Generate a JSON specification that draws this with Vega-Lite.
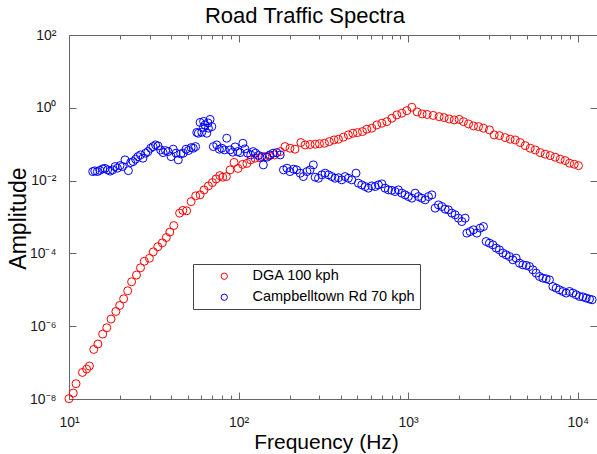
{
  "$schema": "https://vega.github.io/schema/vega-lite/v6.json",
  "width": 528,
  "height": 364,
  "autosize": {"type": "none"},
  "padding": {"left": 69, "top": 35, "right": 0, "bottom": 55},
  "title": {"text": "Road Traffic Spectra", "fontSize": 22, "fontWeight": "normal", "font": "Liberation Sans", "color": "#000", "anchor": "middle", "baseline": "alphabetic", "offset": -17, "dx": -28},
  "data": {"values": [
    {"series": "DGA 100 kph", "f": 10.0, "A": 1.02e-8},
    {"series": "DGA 100 kph", "f": 10.6, "A": 1.46e-8},
    {"series": "DGA 100 kph", "f": 11.0, "A": 2.63e-8},
    {"series": "DGA 100 kph", "f": 12.0, "A": 5.37e-8},
    {"series": "DGA 100 kph", "f": 12.7, "A": 6.65e-8},
    {"series": "DGA 100 kph", "f": 13.2, "A": 8.05e-8},
    {"series": "DGA 100 kph", "f": 14.0, "A": 2.30e-7},
    {"series": "DGA 100 kph", "f": 14.8, "A": 3.24e-7},
    {"series": "DGA 100 kph", "f": 15.8, "A": 6.08e-7},
    {"series": "DGA 100 kph", "f": 16.7, "A": 9.06e-7},
    {"series": "DGA 100 kph", "f": 17.7, "A": 1.57e-6},
    {"series": "DGA 100 kph", "f": 18.9, "A": 2.54e-6},
    {"series": "DGA 100 kph", "f": 19.9, "A": 3.71e-6},
    {"series": "DGA 100 kph", "f": 21.0, "A": 5.66e-6},
    {"series": "DGA 100 kph", "f": 22.2, "A": 9.40e-6},
    {"series": "DGA 100 kph", "f": 23.4, "A": 1.66e-5},
    {"series": "DGA 100 kph", "f": 25.0, "A": 2.54e-5},
    {"series": "DGA 100 kph", "f": 26.4, "A": 4.02e-5},
    {"series": "DGA 100 kph", "f": 27.8, "A": 6.07e-5},
    {"series": "DGA 100 kph", "f": 29.8, "A": 7.33e-5},
    {"series": "DGA 100 kph", "f": 31.4, "A": 1.10e-4},
    {"series": "DGA 100 kph", "f": 33.4, "A": 1.52e-4},
    {"series": "DGA 100 kph", "f": 35.5, "A": 1.95e-4},
    {"series": "DGA 100 kph", "f": 37.5, "A": 2.73e-4},
    {"series": "DGA 100 kph", "f": 39.3, "A": 3.86e-4},
    {"series": "DGA 100 kph", "f": 41.5, "A": 5.82e-4},
    {"series": "DGA 100 kph", "f": 44.9, "A": 1.28e-3},
    {"series": "DGA 100 kph", "f": 46.9, "A": 1.52e-3},
    {"series": "DGA 100 kph", "f": 49.4, "A": 1.48e-3},
    {"series": "DGA 100 kph", "f": 52.5, "A": 2.65e-3},
    {"series": "DGA 100 kph", "f": 55.9, "A": 3.81e-3},
    {"series": "DGA 100 kph", "f": 59.3, "A": 4.06e-3},
    {"series": "DGA 100 kph", "f": 62.6, "A": 5.56e-3},
    {"series": "DGA 100 kph", "f": 66.4, "A": 7.16e-3},
    {"series": "DGA 100 kph", "f": 70.1, "A": 8.83e-3},
    {"series": "DGA 100 kph", "f": 73.7, "A": 1.11e-2},
    {"series": "DGA 100 kph", "f": 77.5, "A": 1.37e-2},
    {"series": "DGA 100 kph", "f": 80.7, "A": 1.24e-2},
    {"series": "DGA 100 kph", "f": 84.7, "A": 1.29e-2},
    {"series": "DGA 100 kph", "f": 89.1, "A": 1.97e-2},
    {"series": "DGA 100 kph", "f": 94.1, "A": 3.16e-2},
    {"series": "DGA 100 kph", "f": 99.3, "A": 2.16e-2},
    {"series": "DGA 100 kph", "f": 105.6, "A": 2.79e-2},
    {"series": "DGA 100 kph", "f": 112, "A": 2.97e-2},
    {"series": "DGA 100 kph", "f": 118, "A": 3.71e-2},
    {"series": "DGA 100 kph", "f": 125, "A": 4.12e-2},
    {"series": "DGA 100 kph", "f": 134, "A": 4.26e-2},
    {"series": "DGA 100 kph", "f": 143, "A": 4.56e-2},
    {"series": "DGA 100 kph", "f": 152, "A": 4.78e-2},
    {"series": "DGA 100 kph", "f": 163, "A": 5.08e-2},
    {"series": "DGA 100 kph", "f": 176, "A": 6.27e-2},
    {"series": "DGA 100 kph", "f": 188, "A": 8.59e-2},
    {"series": "DGA 100 kph", "f": 201, "A": 7.76e-2},
    {"series": "DGA 100 kph", "f": 215, "A": 7.28e-2},
    {"series": "DGA 100 kph", "f": 233, "A": 0.111},
    {"series": "DGA 100 kph", "f": 247, "A": 9.55e-2},
    {"series": "DGA 100 kph", "f": 264, "A": 9.8e-2},
    {"series": "DGA 100 kph", "f": 283, "A": 0.100},
    {"series": "DGA 100 kph", "f": 300, "A": 0.103},
    {"series": "DGA 100 kph", "f": 321, "A": 0.106},
    {"series": "DGA 100 kph", "f": 343, "A": 0.118},
    {"series": "DGA 100 kph", "f": 366, "A": 0.131},
    {"series": "DGA 100 kph", "f": 388, "A": 0.137},
    {"series": "DGA 100 kph", "f": 415, "A": 0.156},
    {"series": "DGA 100 kph", "f": 444, "A": 0.180},
    {"series": "DGA 100 kph", "f": 472, "A": 0.200},
    {"series": "DGA 100 kph", "f": 502, "A": 0.208},
    {"series": "DGA 100 kph", "f": 538, "A": 0.222},
    {"series": "DGA 100 kph", "f": 571, "A": 0.258},
    {"series": "DGA 100 kph", "f": 611, "A": 0.275},
    {"series": "DGA 100 kph", "f": 654, "A": 0.338},
    {"series": "DGA 100 kph", "f": 700, "A": 0.377},
    {"series": "DGA 100 kph", "f": 749, "A": 0.417},
    {"series": "DGA 100 kph", "f": 802, "A": 0.516},
    {"series": "DGA 100 kph", "f": 858, "A": 0.637},
    {"series": "DGA 100 kph", "f": 918, "A": 0.710},
    {"series": "DGA 100 kph", "f": 983, "A": 0.836},
    {"series": "DGA 100 kph", "f": 1052, "A": 1.035},
    {"series": "DGA 100 kph", "f": 1130, "A": 0.769},
    {"series": "DGA 100 kph", "f": 1210, "A": 0.678},
    {"series": "DGA 100 kph", "f": 1295, "A": 0.657},
    {"series": "DGA 100 kph", "f": 1405, "A": 0.617},
    {"series": "DGA 100 kph", "f": 1524, "A": 0.571},
    {"series": "DGA 100 kph", "f": 1632, "A": 0.537},
    {"series": "DGA 100 kph", "f": 1746, "A": 0.494},
    {"series": "DGA 100 kph", "f": 1869, "A": 0.464},
    {"series": "DGA 100 kph", "f": 2000, "A": 0.479},
    {"series": "DGA 100 kph", "f": 2121, "A": 0.417},
    {"series": "DGA 100 kph", "f": 2270, "A": 0.360},
    {"series": "DGA 100 kph", "f": 2429, "A": 0.318},
    {"series": "DGA 100 kph", "f": 2600, "A": 0.304},
    {"series": "DGA 100 kph", "f": 2782, "A": 0.275},
    {"series": "DGA 100 kph", "f": 3018, "A": 0.247},
    {"series": "DGA 100 kph", "f": 3217, "A": 0.180},
    {"series": "DGA 100 kph", "f": 3457, "A": 0.172},
    {"series": "DGA 100 kph", "f": 3736, "A": 0.152},
    {"series": "DGA 100 kph", "f": 3999, "A": 0.137},
    {"series": "DGA 100 kph", "f": 4280, "A": 0.131},
    {"series": "DGA 100 kph", "f": 4580, "A": 0.111},
    {"series": "DGA 100 kph", "f": 4902, "A": 0.0914},
    {"series": "DGA 100 kph", "f": 5247, "A": 0.0776},
    {"series": "DGA 100 kph", "f": 5616, "A": 0.0697},
    {"series": "DGA 100 kph", "f": 6010, "A": 0.0587},
    {"series": "DGA 100 kph", "f": 6432, "A": 0.0531},
    {"series": "DGA 100 kph", "f": 6884, "A": 0.0486},
    {"series": "DGA 100 kph", "f": 7368, "A": 0.0440},
    {"series": "DGA 100 kph", "f": 7885, "A": 0.0387},
    {"series": "DGA 100 kph", "f": 8439, "A": 0.0355},
    {"series": "DGA 100 kph", "f": 8951, "A": 0.0301},
    {"series": "DGA 100 kph", "f": 9539, "A": 0.0282},
    {"series": "DGA 100 kph", "f": 10110, "A": 0.0258},
    {"series": "Campbelltown Rd 70 kph", "f": 13.8, "A": 1.77e-2},
    {"series": "Campbelltown Rd 70 kph", "f": 14.2, "A": 1.85e-2},
    {"series": "Campbelltown Rd 70 kph", "f": 14.7, "A": 1.77e-2},
    {"series": "Campbelltown Rd 70 kph", "f": 15.2, "A": 1.91e-2},
    {"series": "Campbelltown Rd 70 kph", "f": 15.8, "A": 2.10e-2},
    {"series": "Campbelltown Rd 70 kph", "f": 16.3, "A": 2.16e-2},
    {"series": "Campbelltown Rd 70 kph", "f": 16.9, "A": 1.97e-2},
    {"series": "Campbelltown Rd 70 kph", "f": 17.5, "A": 1.82e-2},
    {"series": "Campbelltown Rd 70 kph", "f": 18.1, "A": 1.97e-2},
    {"series": "Campbelltown Rd 70 kph", "f": 18.7, "A": 2.43e-2},
    {"series": "Campbelltown Rd 70 kph", "f": 19.3, "A": 2.19e-2},
    {"series": "Campbelltown Rd 70 kph", "f": 20.0, "A": 2.58e-2},
    {"series": "Campbelltown Rd 70 kph", "f": 20.7, "A": 2.43e-2},
    {"series": "Campbelltown Rd 70 kph", "f": 21.4, "A": 3.71e-2},
    {"series": "Campbelltown Rd 70 kph", "f": 22.4, "A": 1.88e-2},
    {"series": "Campbelltown Rd 70 kph", "f": 23.1, "A": 3.13e-2},
    {"series": "Campbelltown Rd 70 kph", "f": 23.9, "A": 3.33e-2},
    {"series": "Campbelltown Rd 70 kph", "f": 24.7, "A": 3.87e-2},
    {"series": "Campbelltown Rd 70 kph", "f": 25.5, "A": 4.56e-2},
    {"series": "Campbelltown Rd 70 kph", "f": 26.4, "A": 5.08e-2},
    {"series": "Campbelltown Rd 70 kph", "f": 27.3, "A": 4.12e-2},
    {"series": "Campbelltown Rd 70 kph", "f": 28.3, "A": 5.66e-2},
    {"series": "Campbelltown Rd 70 kph", "f": 29.2, "A": 6.27e-2},
    {"series": "Campbelltown Rd 70 kph", "f": 30.3, "A": 7.76e-2},
    {"series": "Campbelltown Rd 70 kph", "f": 31.3, "A": 8.59e-2},
    {"series": "Campbelltown Rd 70 kph", "f": 32.4, "A": 9.55e-2},
    {"series": "Campbelltown Rd 70 kph", "f": 33.5, "A": 8.97e-2},
    {"series": "Campbelltown Rd 70 kph", "f": 34.7, "A": 6.97e-2},
    {"series": "Campbelltown Rd 70 kph", "f": 35.9, "A": 5.87e-2},
    {"series": "Campbelltown Rd 70 kph", "f": 37.1, "A": 6.67e-2},
    {"series": "Campbelltown Rd 70 kph", "f": 38.4, "A": 6.27e-2},
    {"series": "Campbelltown Rd 70 kph", "f": 40.0, "A": 4.56e-2},
    {"series": "Campbelltown Rd 70 kph", "f": 41.2, "A": 7.28e-2},
    {"series": "Campbelltown Rd 70 kph", "f": 42.8, "A": 5.66e-2},
    {"series": "Campbelltown Rd 70 kph", "f": 44.1, "A": 3.71e-2},
    {"series": "Campbelltown Rd 70 kph", "f": 45.6, "A": 5.41e-2},
    {"series": "Campbelltown Rd 70 kph", "f": 47.2, "A": 5.66e-2},
    {"series": "Campbelltown Rd 70 kph", "f": 49.0, "A": 7.28e-2},
    {"series": "Campbelltown Rd 70 kph", "f": 50.6, "A": 6.67e-2},
    {"series": "Campbelltown Rd 70 kph", "f": 52.5, "A": 8.05e-2},
    {"series": "Campbelltown Rd 70 kph", "f": 54.1, "A": 7.76e-2},
    {"series": "Campbelltown Rd 70 kph", "f": 55.8, "A": 8.59e-2},
    {"series": "Campbelltown Rd 70 kph", "f": 56.7, "A": 0.211},
    {"series": "Campbelltown Rd 70 kph", "f": 57.9, "A": 0.200},
    {"series": "Campbelltown Rd 70 kph", "f": 59.3, "A": 0.396},
    {"series": "Campbelltown Rd 70 kph", "f": 60.7, "A": 0.213},
    {"series": "Campbelltown Rd 70 kph", "f": 62.0, "A": 0.289},
    {"series": "Campbelltown Rd 70 kph", "f": 62.2, "A": 0.423},
    {"series": "Campbelltown Rd 70 kph", "f": 63.4, "A": 0.338},
    {"series": "Campbelltown Rd 70 kph", "f": 64.9, "A": 0.200},
    {"series": "Campbelltown Rd 70 kph", "f": 66.1, "A": 0.384},
    {"series": "Campbelltown Rd 70 kph", "f": 66.4, "A": 0.275},
    {"series": "Campbelltown Rd 70 kph", "f": 67.9, "A": 0.479},
    {"series": "Campbelltown Rd 70 kph", "f": 69.5, "A": 0.304},
    {"series": "Campbelltown Rd 70 kph", "f": 71.0, "A": 8.59e-2},
    {"series": "Campbelltown Rd 70 kph", "f": 74.4, "A": 9.55e-2},
    {"series": "Campbelltown Rd 70 kph", "f": 77.0, "A": 7.28e-2},
    {"series": "Campbelltown Rd 70 kph", "f": 79.6, "A": 7.76e-2},
    {"series": "Campbelltown Rd 70 kph", "f": 82.5, "A": 6.97e-2},
    {"series": "Campbelltown Rd 70 kph", "f": 85.2, "A": 0.146},
    {"series": "Campbelltown Rd 70 kph", "f": 89.1, "A": 6.97e-2},
    {"series": "Campbelltown Rd 70 kph", "f": 92.4, "A": 6.03e-2},
    {"series": "Campbelltown Rd 70 kph", "f": 95.4, "A": 8.43e-2},
    {"series": "Campbelltown Rd 70 kph", "f": 98.9, "A": 6.27e-2},
    {"series": "Campbelltown Rd 70 kph", "f": 102, "A": 5.87e-2},
    {"series": "Campbelltown Rd 70 kph", "f": 106, "A": 0.106},
    {"series": "Campbelltown Rd 70 kph", "f": 109, "A": 7.43e-2},
    {"series": "Campbelltown Rd 70 kph", "f": 113, "A": 5.66e-2},
    {"series": "Campbelltown Rd 70 kph", "f": 118, "A": 5.08e-2},
    {"series": "Campbelltown Rd 70 kph", "f": 122, "A": 6.27e-2},
    {"series": "Campbelltown Rd 70 kph", "f": 126, "A": 5.66e-2},
    {"series": "Campbelltown Rd 70 kph", "f": 131, "A": 4.92e-2},
    {"series": "Campbelltown Rd 70 kph", "f": 137, "A": 4.56e-2},
    {"series": "Campbelltown Rd 70 kph", "f": 140, "A": 2.70e-2},
    {"series": "Campbelltown Rd 70 kph", "f": 147, "A": 4.40e-2},
    {"series": "Campbelltown Rd 70 kph", "f": 153, "A": 5.08e-2},
    {"series": "Campbelltown Rd 70 kph", "f": 160, "A": 5.66e-2},
    {"series": "Campbelltown Rd 70 kph", "f": 168, "A": 5.87e-2},
    {"series": "Campbelltown Rd 70 kph", "f": 176, "A": 5.08e-2},
    {"series": "Campbelltown Rd 70 kph", "f": 184, "A": 1.97e-2},
    {"series": "Campbelltown Rd 70 kph", "f": 193, "A": 2.19e-2},
    {"series": "Campbelltown Rd 70 kph", "f": 201, "A": 1.77e-2},
    {"series": "Campbelltown Rd 70 kph", "f": 211, "A": 2.06e-2},
    {"series": "Campbelltown Rd 70 kph", "f": 220, "A": 1.97e-2},
    {"series": "Campbelltown Rd 70 kph", "f": 231, "A": 1.60e-2},
    {"series": "Campbelltown Rd 70 kph", "f": 241, "A": 1.29e-2},
    {"series": "Campbelltown Rd 70 kph", "f": 253, "A": 1.77e-2},
    {"series": "Campbelltown Rd 70 kph", "f": 264, "A": 1.97e-2},
    {"series": "Campbelltown Rd 70 kph", "f": 276, "A": 2.70e-2},
    {"series": "Campbelltown Rd 70 kph", "f": 283, "A": 1.24e-2},
    {"series": "Campbelltown Rd 70 kph", "f": 296, "A": 1.16e-2},
    {"series": "Campbelltown Rd 70 kph", "f": 310, "A": 1.44e-2},
    {"series": "Campbelltown Rd 70 kph", "f": 324, "A": 1.60e-2},
    {"series": "Campbelltown Rd 70 kph", "f": 339, "A": 1.44e-2},
    {"series": "Campbelltown Rd 70 kph", "f": 355, "A": 1.29e-2},
    {"series": "Campbelltown Rd 70 kph", "f": 371, "A": 1.16e-2},
    {"series": "Campbelltown Rd 70 kph", "f": 388, "A": 1.20e-2},
    {"series": "Campbelltown Rd 70 kph", "f": 406, "A": 1.05e-2},
    {"series": "Campbelltown Rd 70 kph", "f": 425, "A": 1.29e-2},
    {"series": "Campbelltown Rd 70 kph", "f": 444, "A": 1.16e-2},
    {"series": "Campbelltown Rd 70 kph", "f": 465, "A": 1.05e-2},
    {"series": "Campbelltown Rd 70 kph", "f": 493, "A": 1.60e-2},
    {"series": "Campbelltown Rd 70 kph", "f": 509, "A": 8.49e-3},
    {"series": "Campbelltown Rd 70 kph", "f": 533, "A": 7.62e-3},
    {"series": "Campbelltown Rd 70 kph", "f": 558, "A": 6.86e-3},
    {"series": "Campbelltown Rd 70 kph", "f": 583, "A": 6.19e-3},
    {"series": "Campbelltown Rd 70 kph", "f": 611, "A": 7.16e-3},
    {"series": "Campbelltown Rd 70 kph", "f": 639, "A": 6.86e-3},
    {"series": "Campbelltown Rd 70 kph", "f": 668, "A": 7.62e-3},
    {"series": "Campbelltown Rd 70 kph", "f": 700, "A": 8.13e-3},
    {"series": "Campbelltown Rd 70 kph", "f": 731, "A": 6.19e-3},
    {"series": "Campbelltown Rd 70 kph", "f": 765, "A": 5.56e-3},
    {"series": "Campbelltown Rd 70 kph", "f": 801, "A": 5.40e-3},
    {"series": "Campbelltown Rd 70 kph", "f": 838, "A": 5.00e-3},
    {"series": "Campbelltown Rd 70 kph", "f": 876, "A": 5.56e-3},
    {"series": "Campbelltown Rd 70 kph", "f": 918, "A": 4.52e-3},
    {"series": "Campbelltown Rd 70 kph", "f": 960, "A": 4.06e-3},
    {"series": "Campbelltown Rd 70 kph", "f": 1004, "A": 3.64e-3},
    {"series": "Campbelltown Rd 70 kph", "f": 1052, "A": 3.29e-3},
    {"series": "Campbelltown Rd 70 kph", "f": 1100, "A": 4.52e-3},
    {"series": "Campbelltown Rd 70 kph", "f": 1150, "A": 3.64e-3},
    {"series": "Campbelltown Rd 70 kph", "f": 1204, "A": 3.29e-3},
    {"series": "Campbelltown Rd 70 kph", "f": 1260, "A": 2.96e-3},
    {"series": "Campbelltown Rd 70 kph", "f": 1318, "A": 3.64e-3},
    {"series": "Campbelltown Rd 70 kph", "f": 1380, "A": 4.06e-3},
    {"series": "Campbelltown Rd 70 kph", "f": 1443, "A": 1.75e-3},
    {"series": "Campbelltown Rd 70 kph", "f": 1510, "A": 2.15e-3},
    {"series": "Campbelltown Rd 70 kph", "f": 1581, "A": 1.94e-3},
    {"series": "Campbelltown Rd 70 kph", "f": 1653, "A": 1.64e-3},
    {"series": "Campbelltown Rd 70 kph", "f": 1729, "A": 1.57e-3},
    {"series": "Campbelltown Rd 70 kph", "f": 1810, "A": 1.28e-3},
    {"series": "Campbelltown Rd 70 kph", "f": 1894, "A": 1.15e-3},
    {"series": "Campbelltown Rd 70 kph", "f": 1981, "A": 9.29e-4},
    {"series": "Campbelltown Rd 70 kph", "f": 2074, "A": 7.50e-4},
    {"series": "Campbelltown Rd 70 kph", "f": 2169, "A": 9.29e-4},
    {"series": "Campbelltown Rd 70 kph", "f": 2220, "A": 3.61e-4},
    {"series": "Campbelltown Rd 70 kph", "f": 2322, "A": 3.99e-4},
    {"series": "Campbelltown Rd 70 kph", "f": 2428, "A": 4.44e-4},
    {"series": "Campbelltown Rd 70 kph", "f": 2543, "A": 3.61e-4},
    {"series": "Campbelltown Rd 70 kph", "f": 2659, "A": 4.94e-4},
    {"series": "Campbelltown Rd 70 kph", "f": 2782, "A": 5.47e-4},
    {"series": "Campbelltown Rd 70 kph", "f": 2885, "A": 2.12e-4},
    {"series": "Campbelltown Rd 70 kph", "f": 3017, "A": 1.91e-4},
    {"series": "Campbelltown Rd 70 kph", "f": 3160, "A": 1.72e-4},
    {"series": "Campbelltown Rd 70 kph", "f": 3305, "A": 1.40e-4},
    {"series": "Campbelltown Rd 70 kph", "f": 3456, "A": 1.25e-4},
    {"series": "Campbelltown Rd 70 kph", "f": 3621, "A": 1.02e-4},
    {"series": "Campbelltown Rd 70 kph", "f": 3786, "A": 9.14e-5},
    {"series": "Campbelltown Rd 70 kph", "f": 3959, "A": 8.20e-5},
    {"series": "Campbelltown Rd 70 kph", "f": 4147, "A": 6.67e-5},
    {"series": "Campbelltown Rd 70 kph", "f": 4337, "A": 7.41e-5},
    {"series": "Campbelltown Rd 70 kph", "f": 4536, "A": 5.41e-5},
    {"series": "Campbelltown Rd 70 kph", "f": 4751, "A": 4.85e-5},
    {"series": "Campbelltown Rd 70 kph", "f": 4969, "A": 4.70e-5},
    {"series": "Campbelltown Rd 70 kph", "f": 5195, "A": 4.37e-5},
    {"series": "Campbelltown Rd 70 kph", "f": 5441, "A": 3.54e-5},
    {"series": "Campbelltown Rd 70 kph", "f": 5691, "A": 2.88e-5},
    {"series": "Campbelltown Rd 70 kph", "f": 5950, "A": 2.32e-5},
    {"series": "Campbelltown Rd 70 kph", "f": 6233, "A": 2.09e-5},
    {"series": "Campbelltown Rd 70 kph", "f": 6518, "A": 2.00e-5},
    {"series": "Campbelltown Rd 70 kph", "f": 6816, "A": 1.88e-5},
    {"series": "Campbelltown Rd 70 kph", "f": 7141, "A": 1.23e-5},
    {"series": "Campbelltown Rd 70 kph", "f": 7467, "A": 1.11e-5},
    {"series": "Campbelltown Rd 70 kph", "f": 7806, "A": 1.00e-5},
    {"series": "Campbelltown Rd 70 kph", "f": 8180, "A": 8.99e-6},
    {"series": "Campbelltown Rd 70 kph", "f": 8553, "A": 8.13e-6},
    {"series": "Campbelltown Rd 70 kph", "f": 8946, "A": 8.99e-6},
    {"series": "Campbelltown Rd 70 kph", "f": 9370, "A": 8.13e-6},
    {"series": "Campbelltown Rd 70 kph", "f": 9800, "A": 7.30e-6},
    {"series": "Campbelltown Rd 70 kph", "f": 10250, "A": 6.55e-6},
    {"series": "Campbelltown Rd 70 kph", "f": 10730, "A": 6.40e-6},
    {"series": "Campbelltown Rd 70 kph", "f": 11220, "A": 5.92e-6},
    {"series": "Campbelltown Rd 70 kph", "f": 11740, "A": 5.56e-6},
    {"series": "Campbelltown Rd 70 kph", "f": 12170, "A": 5.32e-6}
  ]},
  "layer": [
    {
      "mark": {"type": "point", "shape": "circle", "filled": false, "size": 64, "strokeWidth": 1, "opacity": 1},
      "encoding": {
        "x": {"field": "f", "type": "quantitative",
          "scale": {"type": "log", "domain": [10, 13000], "nice": false},
          "axis": {"orient": "bottom", "values": [10, 100, 1000, 10000], "tickSize": -7, "labelPadding": 34, "labelBaseline": "alphabetic",
            "labelExpr": "'10' + (round(log(datum.value)/LN10) < 0 ? '⁻' : '') + ['⁰','¹','²','³','⁴','⁵','⁶','⁷','⁸','⁹'][abs(round(log(datum.value)/LN10))]",
            "title": "Frequency (Hz)", "titleFontSize": 21, "titleX": 257, "titleY": 49, "titleAlign": "center", "titleBaseline": "alphabetic"}},
        "y": {"field": "A", "type": "quantitative",
          "scale": {"type": "log", "domain": [1e-8, 100], "nice": false},
          "axis": {"orient": "left", "values": [1e-8, 1e-6, 1e-4, 1e-2, 1, 100], "tickSize": -7, "labelPadding": 20, "labelBaseline": "middle",
            "labelExpr": "'10' + (round(log(datum.value)/LN10) < 0 ? '⁻' : '') + ['⁰','¹','²','³','⁴','⁵','⁶','⁷','⁸','⁹'][abs(round(log(datum.value)/LN10))]",
            "title": "Amplitude", "titleFontSize": 23, "titleX": -44, "titleY": 183, "titleAlign": "center", "titleBaseline": "alphabetic", "titleAngle": -90}},
        "color": {"field": "series", "type": "nominal",
          "scale": {"domain": ["DGA 100 kph", "Campbelltown Rd 70 kph"], "range": ["#ff0000", "#0000ff"]},
          "legend": {"title": null, "orient": "none", "legendX": 124, "legendY": 229}}
      }
    },
    {
      "mark": {"type": "point", "opacity": 0},
      "encoding": {
        "x": {"field": "f", "type": "quantitative",
          "scale": {"type": "log", "domain": [10, 13000], "nice": false},
          "axis": {"orient": "bottom", "values": [20, 30, 40, 50, 60, 70, 80, 90, 200, 300, 400, 500, 600, 700, 800, 900, 2000, 3000, 4000, 5000, 6000, 7000, 8000, 9000], "tickSize": -4, "labels": false, "title": null}},
        "y": {"field": "A", "type": "quantitative",
          "scale": {"type": "log", "domain": [1e-8, 100], "nice": false},
          "axis": {"orient": "right", "values": [1e-8, 1e-6, 1e-4, 1e-2, 1, 100], "tickSize": -7, "labels": false, "title": null}}
      }
    },
    {
      "mark": {"type": "point", "opacity": 0},
      "encoding": {
        "x": {"field": "f", "type": "quantitative",
          "scale": {"type": "log", "domain": [10, 13000], "nice": false},
          "axis": {"orient": "top", "values": [10, 100, 1000, 10000], "tickSize": -7, "labels": false, "title": null}},
        "y": {"field": "A", "type": "quantitative",
          "scale": {"type": "log", "domain": [1e-8, 100], "nice": false}, "axis": null}
      }
    },
    {
      "mark": {"type": "point", "opacity": 0},
      "encoding": {
        "x": {"field": "f", "type": "quantitative",
          "scale": {"type": "log", "domain": [10, 13000], "nice": false},
          "axis": {"orient": "top", "values": [20, 30, 40, 50, 60, 70, 80, 90, 200, 300, 400, 500, 600, 700, 800, 900, 2000, 3000, 4000, 5000, 6000, 7000, 8000, 9000], "tickSize": -4, "labels": false, "title": null}},
        "y": {"field": "A", "type": "quantitative",
          "scale": {"type": "log", "domain": [1e-8, 100], "nice": false}, "axis": null}
      }
    }
  ],
  "resolve": {"axis": {"x": "independent", "y": "independent"}},
  "config": {
    "view": {"stroke": "#666", "strokeWidth": 1},
    "font": "Liberation Sans",
    "axis": {"domain": false, "grid": false, "tickColor": "#666", "tickWidth": 1, "labelFont": "Liberation Sans", "labelFontSize": 14, "labelColor": "#1a1a1a", "labelFlush": false, "labelOverlap": false, "titleFont": "Liberation Sans", "titleFontWeight": "normal", "titleColor": "#000"},
    "legend": {"strokeColor": "#444", "fillColor": "#fff", "padding": 5, "symbolType": "circle", "symbolSize": 40, "symbolStrokeWidth": 1, "labelFont": "Liberation Sans", "labelFontSize": 14.5, "labelColor": "#000", "labelLimit": 400, "symbolOffset": 19, "labelOffset": 21, "rowPadding": 6}
  }
}
